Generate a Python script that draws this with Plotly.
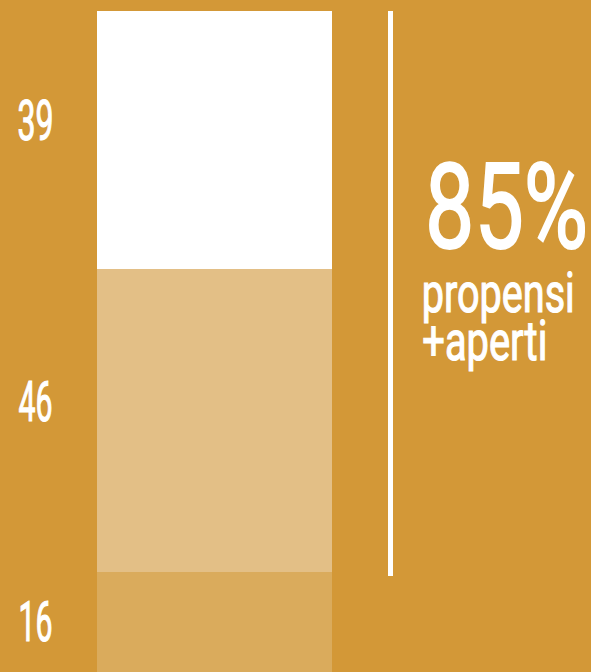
import json
import plotly.graph_objects as go

# Data: stacked segments, listed top to bottom
segment_labels = ["39", "46", "16"]
segment_values = [39, 46, 16]
segment_colors = ["#FFFFFF", "#E3BF86", "#DAAB5C"]

headline = "85%"
caption_lines = ["propensi", "+aperti"]

BG = "#D39837"
FONT = "Roboto, sans-serif"
W, H = 591, 672

fig = go.Figure()

# stack from the bottom up
for label, value, color in zip(segment_labels[::-1], segment_values[::-1], segment_colors[::-1]):
    fig.add_trace(go.Bar(
        x=[0], y=[value], width=1, name=label,
        marker=dict(color=color, line=dict(width=0)),
        hoverinfo="skip",
    ))

# value labels on the left (pixel centres, top to bottom)
label_y_px = [121, 402, 622]
for label, ypx in zip(segment_labels, label_y_px):
    fig.add_annotation(
        x=35 / W, xref="paper", y=1 - ypx / H, yref="paper",
        text=label, showarrow=False, xanchor="center", yanchor="middle",
        font=dict(family=FONT, size=56, color="white"),
    )

# vertical divider
fig.add_shape(type="line", xref="paper", yref="paper",
              x0=390.5 / W, x1=390.5 / W, y0=1 - 11 / H, y1=1 - 576 / H,
              line=dict(color="white", width=5))

fig.add_annotation(x=506.5 / W, xref="paper", y=1 - 208 / H, yref="paper",
                   text=headline, showarrow=False, xanchor="center", yanchor="middle",
                   font=dict(family=FONT, size=118, color="white"))
caption_x_px = [498, 484.5]
caption_y_px = [293, 341]
for line, xpx, ypx in zip(caption_lines, caption_x_px, caption_y_px):
    fig.add_annotation(x=xpx / W, xref="paper", y=1 - ypx / H, yref="paper",
                       text=line, showarrow=False, xanchor="center", yanchor="middle",
                       font=dict(family=FONT, size=56, color="white"))

px_per_x = 235
x0 = -0.5 - 97 / px_per_x
px_per_y = 6.55
y_bottom = (678 - 672) / px_per_y
y_top = 101 + 11 / px_per_y

fig.update_layout(
    barmode="stack",
    width=W, height=H,
    margin=dict(l=0, r=0, t=0, b=0),
    paper_bgcolor=BG, plot_bgcolor=BG,
    showlegend=False,
    xaxis=dict(range=[x0, x0 + W / px_per_x], visible=False, fixedrange=True),
    yaxis=dict(range=[y_bottom, y_top], visible=False, fixedrange=True),
)

# the original uses a very condensed typeface: squeeze glyphs to the widths seen
text_widths = {"39": 36, "46": 34, "16": 34, "85%": 163, "propensi": 153, "+aperti": 125}
post = """
document.body.style.margin = '0';
var widths = %s;
document.querySelectorAll('text.annotation-text').forEach(function (t) {
  var w = widths[t.textContent];
  if (w) {
    t.setAttribute('textLength', w);
    t.setAttribute('lengthAdjust', 'spacingAndGlyphs');
    t.style.stroke = 'white';
    t.style.strokeWidth = t.textContent === '85%%' ? '2px' : '1.2px';
  }
});
""" % json.dumps(text_widths)

fig.write_html("out.html", post_script=post, config={"displayModeBar": False})
